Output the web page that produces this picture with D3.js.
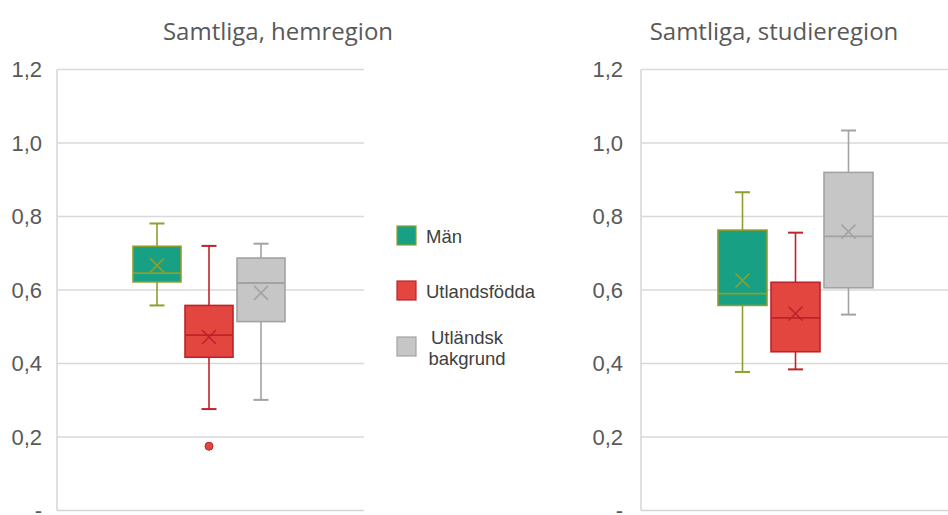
<!DOCTYPE html>
<html>
<head>
<meta charset="utf-8">
<script src="https://cdn.jsdelivr.net/npm/d3@7"></script>
<style>
  body { margin: 0; background: #fff; }
  svg { display: block; }
</style>
</head>
<body>
<div id="chart"></div>
<script>
// data
var titles = ["Samtliga, hemregion", "Samtliga, studieregion"];
var series = ["Män", "Utlandsfödda", "Utländsk bakgrund"];
var yTicks = [0, 0.2, 0.4, 0.6, 0.8, 1.0, 1.2];

var hemLow    = [0.558, 0.276, 0.301];
var hemQ1     = [0.622, 0.417, 0.514];
var hemMedian = [0.646, 0.477, 0.619];
var hemQ3     = [0.719, 0.558, 0.687];
var hemHigh   = [0.781, 0.720, 0.726];
var hemMean   = [0.667, 0.472, 0.592];
var hemOut    = [[], [0.175], []];

var stuLow    = [0.377, 0.384, 0.533];
var stuQ1     = [0.558, 0.432, 0.606];
var stuMedian = [0.590, 0.524, 0.746];
var stuQ3     = [0.763, 0.621, 0.920];
var stuHigh   = [0.866, 0.756, 1.034];
var stuMean   = [0.626, 0.536, 0.759];
var stuOut    = [[], [], []];

var fills   = ["#17a083", "#e2463f", "#c6c6c6"];
var strokes = ["#8f9e2c", "#bd2429", "#a3a3a3"];

var w = 948, h = 515;
var plotTop = 69.5, plotBottom = 510.5;

var svg = d3.select("#chart").append("svg")
    .attr("width", w)
    .attr("height", h);

var y = d3.scaleLinear().domain([0, 1.2]).range([plotBottom, plotTop]);

function rows(low, q1, med, q3, high, mean, out) {
    return series.map(function(s, i) {
        return {name: s, i: i, low: low[i], q1: q1[i], med: med[i], q3: q3[i],
                high: high[i], mean: mean[i], out: out[i]};
    });
}

function drawPanel(title, titleX, data, left, right, labelGap, step) {
    var g = svg.append("g");

    // grid
    g.selectAll("line.grid")
        .data(yTicks.filter(function(d) { return d > 0; }))
        .enter().append("line")
        .attr("x1", left).attr("x2", right)
        .attr("y1", function(d) { return y(d); })
        .attr("y2", function(d) { return y(d); })
        .attr("stroke", "#d9d9d9")
        .attr("stroke-width", 1.5);

    // plot border left + bottom
    g.append("line")
        .attr("x1", left).attr("x2", left)
        .attr("y1", plotTop).attr("y2", plotBottom)
        .attr("stroke", "#d4d4d4").attr("stroke-width", 1.5);
    g.append("line")
        .attr("x1", left).attr("x2", right)
        .attr("y1", plotBottom).attr("y2", plotBottom)
        .attr("stroke", "#d4d4d4").attr("stroke-width", 1.5);

    var yAxis = d3.axisLeft(y)
        .tickValues(yTicks)
        .tickSize(0)
        .tickPadding(labelGap)
        .tickFormat(function(d) { return d === 0 ? "-" : d3.format(".1f")(d).replace(".", ","); });

    var ax = g.append("g")
        .attr("transform", "translate(" + left + ",0)")
        .call(yAxis);
    ax.select(".domain").remove();
    ax.selectAll("text")
        .attr("font-family", "Liberation Sans, Arial, sans-serif")
        .attr("font-size", "22px")
        .attr("fill", "#595959");

    g.append("text")
        .attr("x", titleX)
        .attr("y", 40)
        .attr("text-anchor", "middle")
        .attr("font-family", "Open Sans, sans-serif")
        .attr("font-size", "24px")
        .attr("fill", "#595959")
        .text(title);

    var cx = (left + right) / 2 - 1.5;
    var x = d3.scaleBand()
        .domain(series)
        .range([cx - step * 1.5 + 2, cx + step * 1.5 - 2])
        .paddingInner(4 / step);
    var bw = x.bandwidth();
    var cap = 15;

    var box = g.selectAll("g.box")
        .data(data)
        .enter().append("g")
        .attr("transform", function(d) { return "translate(" + (x(d.name) + bw / 2) + ",0)"; });

    box.append("line")
        .attr("y1", function(d) { return y(d.high); })
        .attr("y2", function(d) { return y(d.low); })
        .attr("stroke", function(d) { return strokes[d.i]; })
        .attr("stroke-width", 1.6);
    box.append("line")
        .attr("x1", -cap / 2).attr("x2", cap / 2)
        .attr("y1", function(d) { return y(d.high); })
        .attr("y2", function(d) { return y(d.high); })
        .attr("stroke", function(d) { return strokes[d.i]; })
        .attr("stroke-width", 2);
    box.append("line")
        .attr("x1", -cap / 2).attr("x2", cap / 2)
        .attr("y1", function(d) { return y(d.low); })
        .attr("y2", function(d) { return y(d.low); })
        .attr("stroke", function(d) { return strokes[d.i]; })
        .attr("stroke-width", 2);

    box.append("rect")
        .attr("x", -bw / 2)
        .attr("width", bw)
        .attr("y", function(d) { return y(d.q3); })
        .attr("height", function(d) { return y(d.q1) - y(d.q3); })
        .attr("fill", function(d) { return fills[d.i]; })
        .attr("stroke", function(d) { return strokes[d.i]; })
        .attr("stroke-width", 1.6);

    box.append("line")
        .attr("x1", -bw / 2).attr("x2", bw / 2)
        .attr("y1", function(d) { return y(d.med); })
        .attr("y2", function(d) { return y(d.med); })
        .attr("stroke", function(d) { return strokes[d.i]; })
        .attr("stroke-width", 1.8);

    var m = 7;
    box.append("path")
        .attr("d", function(d) {
            var yy = y(d.mean);
            return "M" + (-m) + "," + (yy - m) + "L" + m + "," + (yy + m) +
                   "M" + (-m) + "," + (yy + m) + "L" + m + "," + (yy - m);
        })
        .attr("fill", "none")
        .attr("stroke", function(d) { return strokes[d.i]; })
        .attr("stroke-width", 1.6);

    box.selectAll("circle")
        .data(function(d) { return d.out.map(function(v) { return {v: v, i: d.i}; }); })
        .enter().append("circle")
        .attr("cy", function(d) { return y(d.v); })
        .attr("r", 4)
        .attr("fill", function(d) { return fills[d.i]; })
        .attr("stroke", function(d) { return strokes[d.i]; })
        .attr("stroke-width", 1);
}

drawPanel(titles[0], 278, rows(hemLow, hemQ1, hemMedian, hemQ3, hemHigh, hemMean, hemOut), 57, 364, 15, 52);
drawPanel(titles[1], 774, rows(stuLow, stuQ1, stuMedian, stuQ3, stuHigh, stuMean, stuOut), 641, 953, 18, 53);

// legend
var legendY = [235.5, 290.5, 346.5];
var lg = svg.selectAll("g.legend")
    .data(series)
    .enter().append("g")
    .attr("transform", function(d, i) { return "translate(397," + legendY[i] + ")"; });

lg.append("rect")
    .attr("x", 0).attr("y", -9.5)
    .attr("width", 19).attr("height", 19)
    .attr("fill", function(d, i) { return fills[i]; })
    .attr("stroke", function(d, i) { return strokes[i]; })
    .attr("stroke-width", 1.2);

lg.append("text")
    .attr("font-family", "Liberation Sans, Arial, sans-serif")
    .attr("font-size", "18.5px")
    .attr("fill", "#404040")
    .each(function(d) {
        var t = d3.select(this);
        var parts = d === "Utländsk bakgrund" ? ["Utländsk", "bakgrund"] : [d];
        if (parts.length === 1) {
            t.append("tspan").attr("x", 29).attr("y", 7).text(parts[0]);
        } else {
            t.attr("text-anchor", "middle");
            t.append("tspan").attr("x", 70).attr("y", -3).text(parts[0]);
            t.append("tspan").attr("x", 70).attr("y", 18).text(parts[1]);
        }
    });
</script>
</body>
</html>
